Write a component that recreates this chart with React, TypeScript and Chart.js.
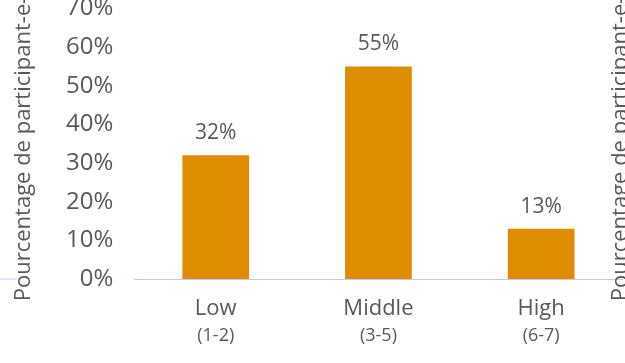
import React, { useEffect, useRef } from "react";
import { Chart, registerables } from "chart.js";

Chart.register(...registerables);

const CATEGORIES = ["Low", "Middle", "High"];
const SUB_LABELS = ["(1-2)", "(3-5)", "(6-7)"];
const VALUES = [32, 55, 13];
const Y_TICKS_MAX = 70;
const Y_STEP = 10;
const AXIS_TITLE = "Pourcentage de participant-e-s";

const BAR_COLOR = "#DE8C00";
const TEXT_COLOR = "#595959";
const AXIS_LINE_COLOR = "#C5C8F2";
const FONT = "'Open Sans', 'Noto Sans', sans-serif";

const extrasPlugin = {
  id: "extras",
  afterDatasetsDraw(chart: any) {
    const ctx = chart.ctx;
    const meta = chart.getDatasetMeta(0);
    const area = chart.chartArea;
    ctx.save();
    // value labels
    ctx.font = `21px ${FONT}`;
    ctx.fillStyle = TEXT_COLOR;
    ctx.textAlign = "center";
    ctx.textBaseline = "alphabetic";
    meta.data.forEach((bar: any, i: number) => {
      ctx.fillText(`${VALUES[i]}%`, bar.x, bar.y - 16);
    });
    // short baseline stub at far left (neighbouring chart)
    const y0 = chart.scales.y.getPixelForValue(0);
    ctx.strokeStyle = AXIS_LINE_COLOR;
    ctx.lineWidth = 1;
    ctx.beginPath();
    ctx.moveTo(0, y0);
    ctx.lineTo(chart.scales.y.left + 17, y0);
    ctx.stroke();
    // right axis title (reads bottom to top)
    ctx.translate(chart.width - 4, (area.top + area.bottom) / 2);
    ctx.rotate(-Math.PI / 2);
    ctx.font = `22px ${FONT}`;
    ctx.textBaseline = "middle";
    ctx.fillText(AXIS_TITLE, 0, 0);
    ctx.restore();
  },
};

export default function App() {
  const ref = useRef<HTMLCanvasElement | null>(null);

  useEffect(() => {
    if (!ref.current) return;
    const chart = new Chart(ref.current, {
      type: "bar",
      data: {
        labels: CATEGORIES,
        datasets: [
          {
            data: VALUES,
            backgroundColor: BAR_COLOR,
            borderWidth: 0,
            barPercentage: 0.41,
            categoryPercentage: 1,
          },
        ],
      },
      options: {
        responsive: false,
        animation: false,
        layout: { padding: { top: 0, right: 2.5, bottom: 18, left: 0 } },
        plugins: {
          legend: { display: false },
          tooltip: { enabled: false },
        },
        scales: {
          x: {
            type: "category",
            position: "bottom",
            weight: 0,
            offset: true,
            grid: { display: false, drawTicks: false },
            border: { display: true, color: AXIS_LINE_COLOR, width: 1 },
            ticks: {
              color: TEXT_COLOR,
              font: { family: FONT, size: 22, lineHeight: 50 / 22 },
              padding: 5,
              maxRotation: 0,
            },
          },
          x2: {
            type: "category",
            position: "bottom",
            weight: 1,
            labels: SUB_LABELS,
            offset: true,
            grid: { display: false, drawTicks: false },
            border: { display: false },
            ticks: {
              mirror: true,
              color: TEXT_COLOR,
              font: { family: FONT, size: 18, lineHeight: 1 / 18 },
              padding: 3,
              maxRotation: 0,
            },
          },
          y: {
            min: 0,
            max: Y_TICKS_MAX,
            grid: { display: false, drawTicks: true, tickLength: 18 },
            border: { display: false },
            ticks: {
              stepSize: Y_STEP,
              color: TEXT_COLOR,
              font: { family: FONT, size: 24, lineHeight: 0.45 },
              padding: 3,
              callback: (v: any) => `${v}%`,
            },
            title: {
              display: true,
              text: AXIS_TITLE,
              color: TEXT_COLOR,
              font: { family: FONT, size: 22 },
              padding: { top: 10.5, bottom: 26.2 },
            },
          },
        },
      },
      plugins: [extrasPlugin],
    });
    return () => chart.destroy();
  }, []);

  return (
    <div
      style={{
        position: "fixed",
        left: 0,
        top: 0,
        width: 625,
        height: 363,
        overflow: "hidden",
        background: "#fff",
      }}
    >
      <canvas ref={ref} width={625} height={363} style={{ display: "block" }} />
    </div>
  );
}
